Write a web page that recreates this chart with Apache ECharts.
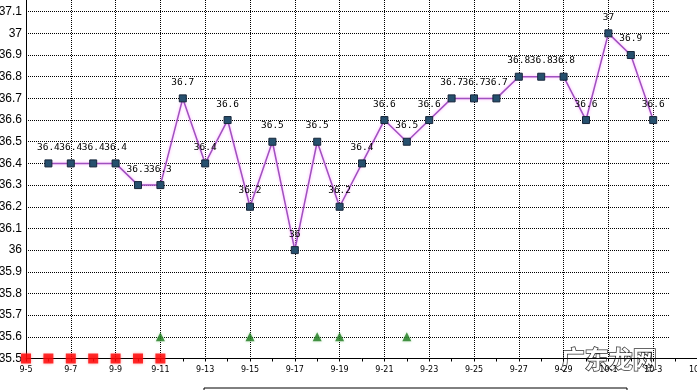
<!DOCTYPE html>
<html>
<head>
<meta charset="utf-8">
<script src="https://cdn.jsdelivr.net/npm/echarts@6/dist/echarts.min.js"></script>
<style>html,body{margin:0;padding:0;background:#fff}#c{width:697px;height:390px}</style>
</head>
<body>
<div id="c"></div>
<script>
var dates = ['9-5','9-6','9-7','9-8','9-9','9-10','9-11','9-12','9-13','9-14','9-15','9-16','9-17','9-18','9-19','9-20','9-21','9-22','9-23','9-24','9-25','9-26','9-27','9-28','9-29','9-30','10-1','10-2','10-3','10-4','10-5'];
var temps = [null,36.4,36.4,36.4,36.4,36.3,36.3,36.7,36.4,36.6,36.2,36.5,36.0,36.5,36.2,36.4,36.6,36.5,36.6,36.7,36.7,36.7,36.8,36.8,36.8,36.6,37.0,36.9,36.6,null,null];
var periodDays = ['9-5','9-6','9-7','9-8','9-9','9-10','9-11'];
var periodValue = 35.5;
var markDays = ['9-11','9-15','9-18','9-19','9-22'];
var markValue = 35.6;
var yMin = 35.5, yMax = 37.2, yStep = 0.1;

var chart = echarts.init(document.getElementById('c'), null, {renderer: 'canvas'});
var dotted = {color: '#000', type: [1, 1], width: 1};
var option = {
  animation: false,
  backgroundColor: '#fff',
  grid: [
    {left: 26, right: 27, top: -10, bottom: 31.5, outerBoundsMode: 'none', containLabel: false},
    {left: 26, right: -1, top: -10, bottom: 31.5, outerBoundsMode: 'none', containLabel: false}
  ],
  xAxis: [
    {gridIndex: 0, type: 'value', min: 0, max: 1, show: false},
    {gridIndex: 1, type: 'category', data: dates, boundaryGap: false,
     axisLine: {lineStyle: {color: '#000', width: 1}},
     axisTick: {show: true, interval: 0, length: 3, lineStyle: {color: '#000'}},
     axisLabel: {interval: 1, fontSize: 8, color: '#000', margin: 7, fontFamily: 'DejaVu Sans', hideOverlap: false},
     splitLine: {show: true, interval: 1, lineStyle: dotted}}
  ],
  yAxis: [
    {gridIndex: 0, type: 'value', min: yMin, max: yMax, interval: yStep,
     axisLine: {show: false}, axisTick: {show: false}, axisLabel: {show: false},
     splitLine: {show: true, lineStyle: dotted}},
    {gridIndex: 1, type: 'value', min: yMin, max: yMax, interval: yStep,
     axisLine: {show: true, lineStyle: {color: '#000', width: 1}},
     axisTick: {show: false},
     axisLabel: {fontSize: 12, color: '#000', margin: 4, fontFamily: 'Liberation Sans'},
     splitLine: {show: false}}
  ],
  series: [
    {type: 'line', xAxisIndex: 1, yAxisIndex: 1, data: temps, connectNulls: false,
     symbol: 'rect', symbolSize: 7,
     lineStyle: {color: '#a050c0', width: 1.5, shadowColor: 'rgba(255,160,255,0.9)', shadowBlur: 3},
     itemStyle: {color: '#26506e', borderColor: '#17263a', borderWidth: 1},
     label: {show: true, position: 'top', distance: 7, color: '#000', fontSize: 9.5, fontFamily: 'DejaVu Sans Mono'},
     labelLayout: {hideOverlap: false},
     z: 5},
    {type: 'scatter', xAxisIndex: 1, yAxisIndex: 1, clip: false,
     data: periodDays.map(function(d){return [d, periodValue];}),
     symbol: 'rect', symbolSize: 10,
     itemStyle: {color: '#ff0000', shadowColor: 'rgba(255,80,80,0.7)', shadowBlur: 3}, z: 6},
    {type: 'scatter', xAxisIndex: 1, yAxisIndex: 1, clip: false,
     data: markDays.map(function(d){return [d, markValue];}),
     symbol: 'triangle', symbolSize: 9,
     itemStyle: {color: '#1e7a1e', shadowColor: 'rgba(120,200,120,0.6)', shadowBlur: 3}, z: 6}
  ],
  graphic: [
    {type: 'rect', shape: {x: 204, y: 388, width: 423, height: 20}, style: {fill: 'none', stroke: '#000', lineWidth: 1}},
    {type: 'text', left: 560, top: 346, style: {text: '广东龙网', font: 'bold 24px "Noto Sans CJK SC"', fill: '#fff', stroke: '#333', lineWidth: 1.5}}
  ]
};
chart.setOption(option);
</script>
</body>
</html>
